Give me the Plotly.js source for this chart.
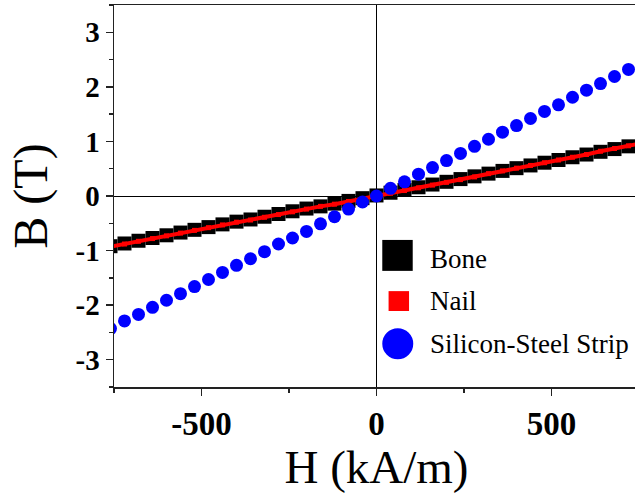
<!DOCTYPE html>
<html>
<head>
<meta charset="utf-8">
<script src="https://cdn.plot.ly/plotly-3.0.1.min.js"></script>
<style>
  html, body { margin: 0; padding: 0; overflow: hidden; background: #fff; }
  #chart { width: 650px; height: 493px; }
</style>
</head>
<body>
<div id="chart"></div>
<script>
// H (kA/m) sample points
const hGrid = [-760, -720, -680, -640, -600, -560, -520, -480, -440, -400, -360, -320, -280, -240, -200, -160, -120, -80, -40, 0,
               40, 80, 120, 160, 200, 240, 280, 320, 360, 400, 440, 480, 520, 560, 600, 640, 680, 720, 760];

// B (T) values
const boneB = [-0.92, -0.87, -0.82, -0.77, -0.72, -0.67, -0.62, -0.57, -0.52, -0.47, -0.43, -0.38, -0.33, -0.28, -0.23, -0.19, -0.14, -0.09, -0.04, 0.01,
               0.06, 0.11, 0.16, 0.21, 0.26, 0.31, 0.36, 0.41, 0.46, 0.51, 0.56, 0.61, 0.66, 0.71, 0.76, 0.81, 0.86, 0.91, 0.96];
const nailB = [-0.93, -0.88, -0.83, -0.78, -0.73, -0.68, -0.63, -0.58, -0.53, -0.48, -0.44, -0.39, -0.34, -0.29, -0.24, -0.19, -0.15, -0.10, -0.05, 0.00,
               0.05, 0.10, 0.15, 0.20, 0.25, 0.30, 0.35, 0.41, 0.46, 0.51, 0.56, 0.61, 0.66, 0.71, 0.76, 0.82, 0.87, 0.92, 0.97];
const steelB = [-2.43, -2.29, -2.17, -2.04, -1.91, -1.79, -1.66, -1.53, -1.40, -1.27, -1.15, -1.02, -0.88, -0.77, -0.65, -0.51, -0.38, -0.24, -0.11, 0.00,
                0.14, 0.26, 0.40, 0.52, 0.65, 0.78, 0.91, 1.04, 1.17, 1.29, 1.42, 1.55, 1.67, 1.81, 1.94, 2.06, 2.19, 2.32, 2.45];

const seriesNames = ["Bone", "Nail", "Silicon-Steel Strip"];
const xTickVals = [-500, 0, 500];
const xTickText = ["-500", "0", "500"];
const yTickVals = [-3, -2, -1, 0, 1, 2, 3];
const yTickText = ["-3", "-2", "-1", "0", "1", "2", "3"];

const serif = "Liberation Serif, Times New Roman, serif";

const traces = [
  { x: hGrid, y: boneB, name: seriesNames[0], type: "scatter", mode: "markers",
    marker: { symbol: "square", size: 14, color: "#000000" }, showlegend: false },
  { x: hGrid, y: nailB, name: seriesNames[1], type: "scatter", mode: "lines+markers",
    line: { color: "#ff0000", width: 4 },
    marker: { symbol: "square", size: 5, color: "#ff0000" }, showlegend: false },
  { x: hGrid, y: steelB, name: seriesNames[2], type: "scatter", mode: "markers",
    marker: { symbol: "circle", size: 13, color: "#0000ff" }, showlegend: false }
];

const layout = {
  width: 650, height: 493,
  margin: { l: 114, r: 11, t: 5, b: 106 },
  paper_bgcolor: "#ffffff", plot_bgcolor: "#ffffff",
  showlegend: false,
  xaxis: {
    range: [-750, 750], showgrid: false,
    zeroline: true, zerolinecolor: "#000000", zerolinewidth: 1,
    showline: true, linecolor: "#222222", linewidth: 1.5, mirror: true,
    ticks: "outside", ticklen: 7, tickwidth: 1.5, tickcolor: "#222222",
    tickvals: xTickVals, ticktext: xTickText,
    minor: { tickvals: [-750, -250, 250, 750], ticks: "outside", ticklen: 4, tickwidth: 1.5, tickcolor: "#222222" },
    tickfont: { family: serif, size: 33, color: "#000000", weight: "bold" },
    title: { text: "H (kA/m)", font: { family: serif, size: 47, color: "#000000" }, standoff: 9 }
  },
  yaxis: {
    range: [-3.5, 3.5], showgrid: false,
    zeroline: true, zerolinecolor: "#000000", zerolinewidth: 1,
    showline: true, linecolor: "#222222", linewidth: 1.5, mirror: true,
    ticks: "outside", ticklen: 7, tickwidth: 1.5, tickcolor: "#222222",
    tickvals: yTickVals, ticktext: yTickText,
    minor: { tickvals: [-3.5, -2.5, -1.5, -0.5, 0.5, 1.5, 2.5, 3.5], ticks: "outside", ticklen: 4, tickwidth: 1.5, tickcolor: "#222222" },
    tickfont: { family: serif, size: 29, color: "#000000", weight: "bold" },
    title: { text: "B (T)", font: { family: serif, size: 48, color: "#000000" }, standoff: 12 }
  },
  shapes: [
    { type: "rect", xref: "paper", yref: "paper", x0: 0.511, x1: 0.569, y0: 0.304, y1: 0.385,
      fillcolor: "#000000", line: { width: 0 } },
    { type: "rect", xref: "paper", yref: "paper", x0: 0.523, x1: 0.562, y0: 0.199, y1: 0.251,
      fillcolor: "#ff0000", line: { width: 0 } },
    { type: "circle", xref: "paper", yref: "paper", x0: 0.511, x1: 0.570, y0: 0.0725, y1: 0.154,
      fillcolor: "#0000ff", line: { width: 0 } }
  ],
  annotations: [
    { text: seriesNames[0], xref: "paper", yref: "paper", x: 0.598, y: 0.335, xanchor: "left", yanchor: "middle",
      showarrow: false, font: { family: serif, size: 27, color: "#000000" } },
    { text: seriesNames[1], xref: "paper", yref: "paper", x: 0.598, y: 0.226, xanchor: "left", yanchor: "middle",
      showarrow: false, font: { family: serif, size: 27, color: "#000000" } },
    { text: seriesNames[2], xref: "paper", yref: "paper", x: 0.598, y: 0.113, xanchor: "left", yanchor: "middle",
      showarrow: false, font: { family: serif, size: 27, color: "#000000" } }
  ]
};

Plotly.newPlot("chart", traces, layout, { displayModeBar: false, staticPlot: true });
</script>
</body>
</html>
